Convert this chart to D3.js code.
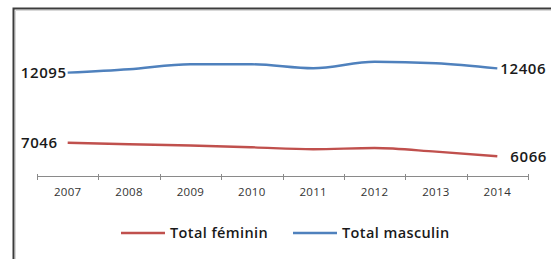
<!DOCTYPE html>
<html><head><meta charset="utf-8">
<script src="https://cdn.jsdelivr.net/npm/d3@7"></script>
<style>
html,body{margin:0;padding:0;background:#fff;}
svg{display:block;}
</style></head>
<body>
<svg id="c" width="551" height="259"></svg>
<script>
const years = ["2007","2008","2009","2010","2011","2012","2013","2014"];
const feminin = [7046, 6933, 6846, 6716, 6572, 6666, 6399, 6066];
const masculin = [12095, 12340, 12700, 12700, 12412, 12888, 12773, 12406];
const seriesNames = ["Total féminin", "Total masculin"];
const seriesColors = ["#C0504D", "#4F81BD"];

const svg = d3.select("#c");
svg.append("rect").attr("width",551).attr("height",259).attr("fill","#fff");

// frame
svg.append("path").attr("d","M13.5,259 L13.5,8.5 L551,8.5")
  .attr("fill","none").attr("stroke","#3c3c3c").attr("stroke-width",2);
svg.append("path").attr("d","M15.5,259 L15.5,10.5 L551,10.5")
  .attr("fill","none").attr("stroke","#d8d8d8").attr("stroke-width",1);

const x = d3.scaleBand().domain(years).range([37, 528]);
const y = d3.scaleLinear().domain([6000, 12000]).range([157.2, 74.0]);
const axisY = 176;

// axis line + boundary ticks
const axisG = svg.append("g").attr("transform",`translate(0,${axisY})`);
axisG.append("line").attr("x1",x.range()[0]).attr("x2",x.range()[1])
  .attr("y1",0.5).attr("y2",0.5).attr("stroke","#8a8a8a").attr("stroke-width",1);
const bounds = years.map(d => x(d)).concat([x(years[years.length-1]) + x.bandwidth()]);
axisG.selectAll("line.tk").data(bounds).join("line").attr("class","tk")
  .attr("x1",d=>Math.round(d)+0.5).attr("x2",d=>Math.round(d)+0.5)
  .attr("y1",-2).attr("y2",4).attr("stroke","#8a8a8a");

// category labels via axis
const labAxis = d3.axisBottom(x).tickSize(0).tickPadding(0);
const lg = svg.append("g").attr("transform",`translate(0,${axisY+12})`).call(labAxis);
lg.select(".domain").remove();
lg.selectAll("text").attr("font-family","'Open Sans', sans-serif").attr("font-size",11.5)
  .attr("fill","#333").attr("letter-spacing",0.3).attr("dy","0.71em");

const line = d3.line().x((d,i)=>x(years[i]) + x.bandwidth()/2).y(d=>y(d)).curve(d3.curveMonotoneX);
const data = [feminin, masculin];
svg.selectAll("path.series").data(data).join("path").attr("class","series")
  .attr("d", line).attr("fill","none")
  .attr("stroke",(d,i)=>seriesColors[i]).attr("stroke-width",2.4)
  .attr("stroke-linejoin","round");

// data labels at ends
const labFont = "'Open Sans', sans-serif";
data.forEach((s,i)=>{
  const x0 = x(years[0]) + x.bandwidth()/2;
  const x1 = x(years[years.length-1]) + x.bandwidth()/2;
  svg.append("text").attr("x", x0 - (i===0?10:1)).attr("y", y(s[0])).attr("dy","0.35em")
    .attr("text-anchor","end").attr("font-family",labFont).attr("font-weight",600)
    .attr("font-size",15).attr("letter-spacing",0.6).attr("fill","#1a1a1a").text(s[0]);
  svg.append("text").attr("x", x1 + (i===0?13:3)).attr("y", y(s[s.length-1])).attr("dy","0.35em")
    .attr("text-anchor","start").attr("font-family",labFont).attr("font-weight",600)
    .attr("font-size",15).attr("letter-spacing",0.6).attr("fill","#1a1a1a").text(s[s.length-1]);
});

// legend
const legY = 233;
const legX = [121, 293];
seriesNames.forEach((n,i)=>{
  svg.append("line").attr("x1",legX[i]).attr("x2",legX[i]+44).attr("y1",legY).attr("y2",legY)
    .attr("stroke",seriesColors[i]).attr("stroke-width",2.4);
  svg.append("text").attr("x",legX[i]+49).attr("y",legY).attr("dy","0.35em")
    .attr("font-family",labFont).attr("font-weight",600).attr("font-size",14.5)
    .attr("letter-spacing",0.4).attr("fill","#1a1a1a").text(n);
});
</script>
</body></html>
